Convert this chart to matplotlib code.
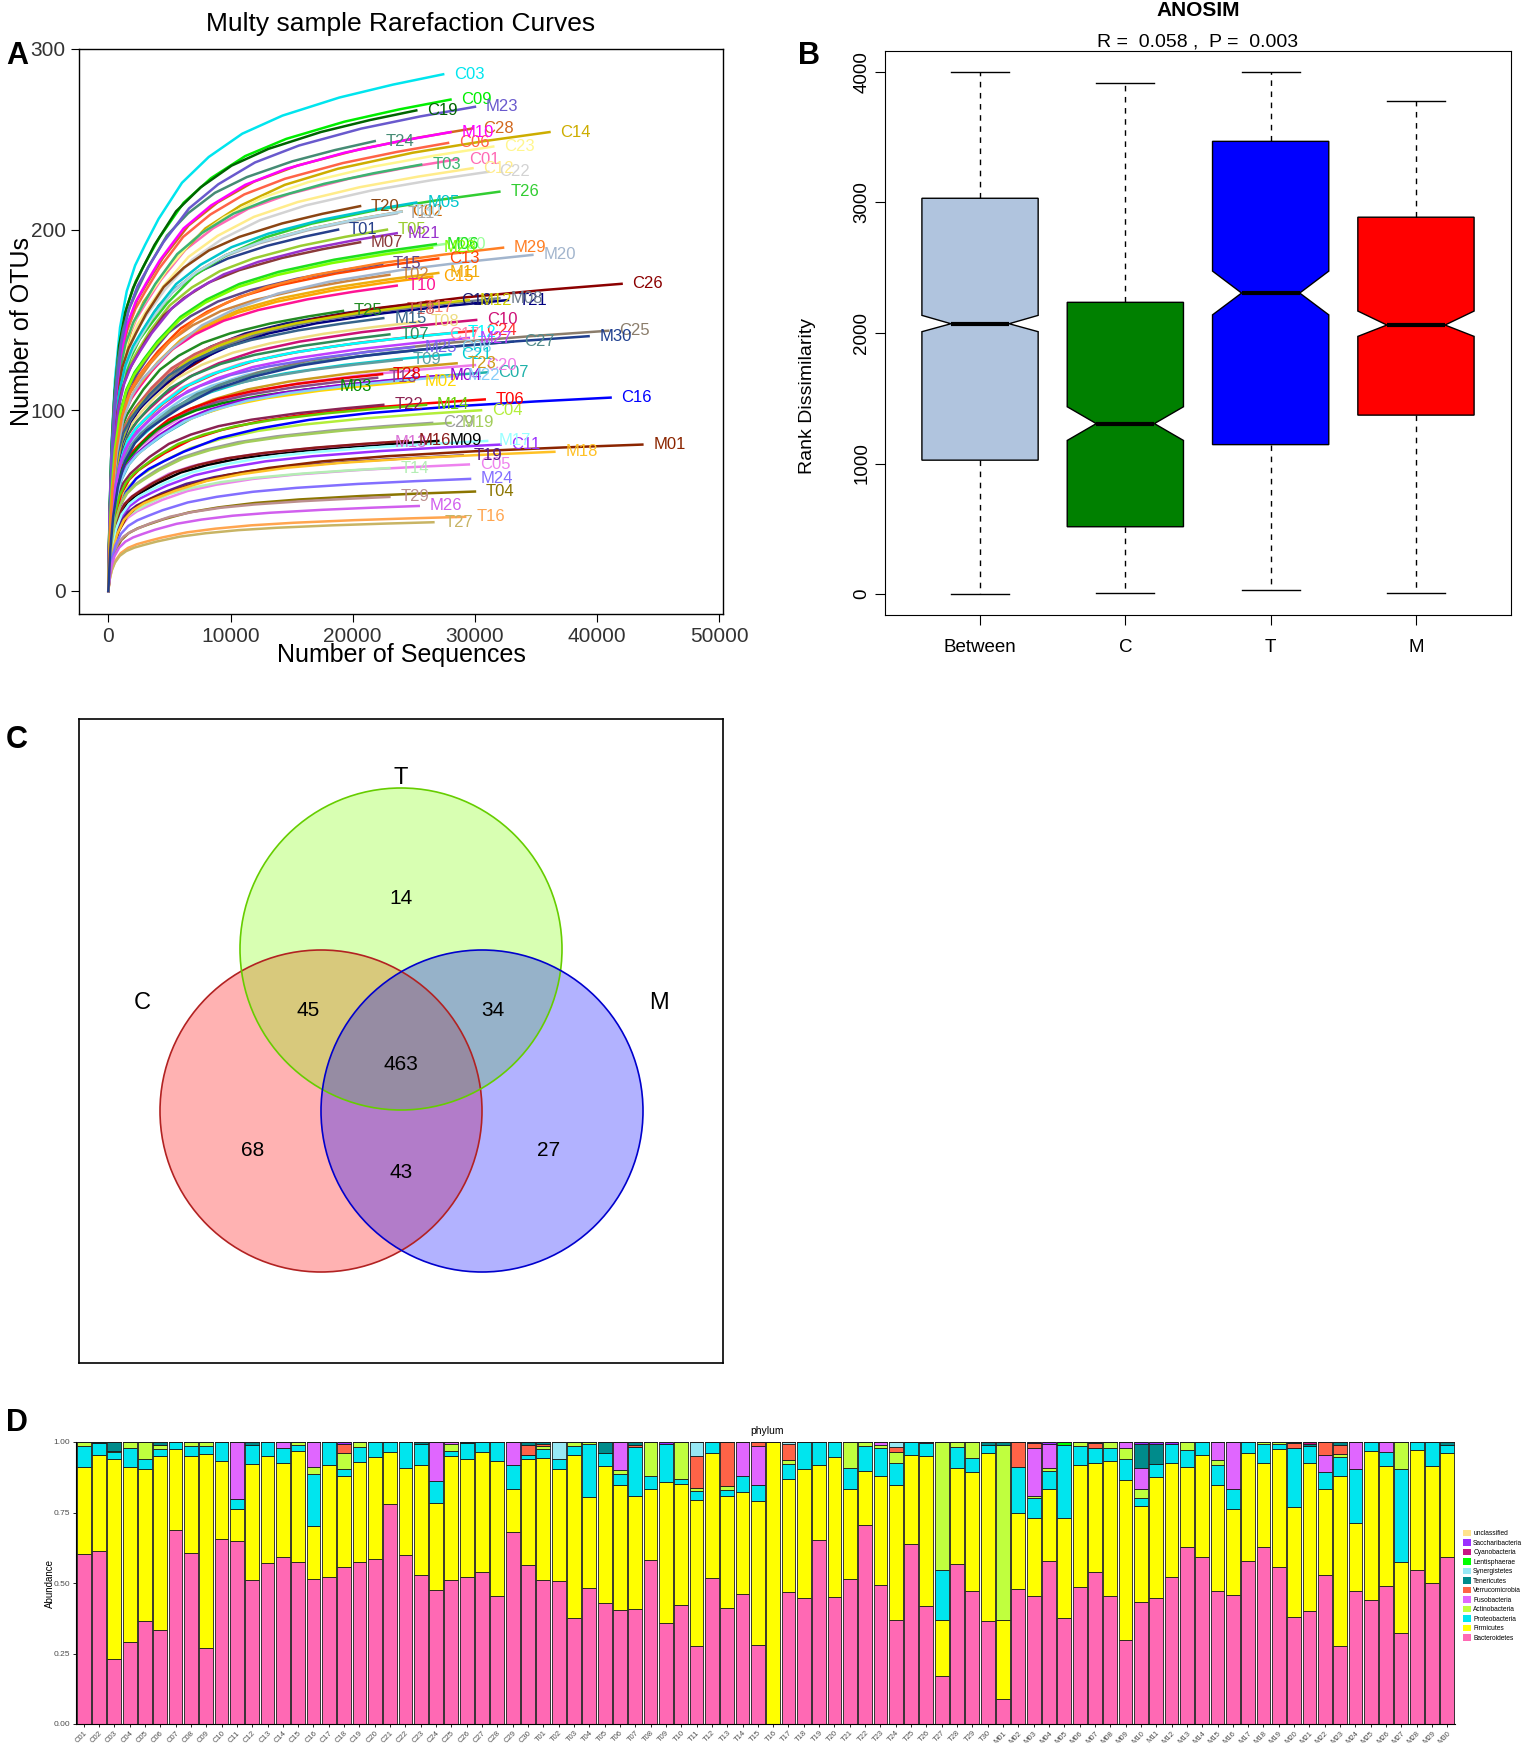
import matplotlib.pyplot as plt
from matplotlib.patches import Circle, Patch
import numpy as np

plt.rcParams['font.family'] = ['Liberation Sans', 'DejaVu Sans']

# ---------------- panel A: rarefaction curves ----------------
samples = [f"{g}{i:02d}" for g in "CTM" for i in range(1, 31)]

seq_depth = [28600, 24000, 27400, 30500, 29500, 27800, 31000, 28000, 28000, 30100,
             32100, 29800, 27000, 36100, 26500, 41100, 27000, 28000, 25200, 30000,
             28000, 31100, 31500, 30000, 40900, 42000, 33100, 29800, 26500, 27500,
             18800, 23000, 25600, 30000, 22800, 30800, 23000, 25500, 24000, 23600,
             23600, 28500, 22000, 23000, 22400, 29200, 25000, 23500, 29000, 20600,
             32700, 22500, 28500, 21800, 19200, 32000, 26600, 22400, 23000, 24000,
             43700, 25000, 18000, 27000, 25200, 26800, 20600, 32000, 27000, 28000,
             27000, 29500, 22500, 26000, 22500, 24500, 31000, 36500, 28000, 34700,
             23600, 28500, 30000, 29600, 25000, 25400, 29500, 26500, 32300, 39300]

otu_final = [239, 210, 286, 100, 70, 248, 121, 135, 272, 150,
             81, 234, 184, 254, 174, 107, 142, 161, 266, 125,
             131, 232, 246, 144, 144, 170, 138, 256, 93, 192,
             200, 175, 236, 55, 200, 106, 142, 149, 128, 169,
             209, 143, 118, 68, 181, 41, 157, 156, 75, 213,
             161, 103, 126, 249, 155, 221, 38, 120, 52, 210,
             81, 116, 113, 119, 215, 192, 193, 162, 83, 254,
             176, 161, 82, 103, 151, 83, 83, 77, 93, 186,
             198, 119, 268, 62, 135, 47, 140, 190, 190, 141]

curve_colors = ['#FF69B4', '#CD6600', '#00E5EE', '#B3EE3A', '#EE82EE', '#FF6347', '#20B2AA', '#87CEEB', '#00EE00', '#CD1076',
                '#9B30FF', '#FFEC8B', '#FF4500', '#CDAD00', '#FFA500', '#0000FF', '#FF82AB', '#191970', '#006400', '#EE7AE9',
                '#00CED1', '#D3D3D3', '#FFF68F', '#FF3030', '#8B7D6B', '#8B0000', '#528B8B', '#D2691E', '#9C9C9C', '#9AFF9A',
                '#27408B', '#CD853F', '#3CB371', '#8B7500', '#9ACD32', '#FF0000', '#2E8B57', '#EEDD82', '#5F9EA0', '#FF1493',
                '#A9A9A9', '#00FFFF', '#8B4789', '#B4EEB4', '#5D478B', '#FFA54F', '#FA8072', '#CD5C5C', '#551A8B', '#8B4513',
                '#000080', '#8B2252', '#CD9B1D', '#458B74', '#228B22', '#32CD32', '#C8B464', '#EE0000', '#BC8F8F', '#ADD8E6',
                '#8B2500', '#FFD700', '#008B00', '#9400D3', '#00C5CD', '#1EE01E', '#8B3A3A', '#6C7B8B', '#000000', '#FF00FF',
                '#EEAD0E', '#CDCD00', '#DA70D6', '#66CD00', '#36648B', '#8B1A1A', '#97FFFF', '#FFC125', '#A2CD5A', '#A2B5CD',
                '#9932CC', '#87CEFA', '#6959CD', '#836FFF', '#7A67EE', '#D15FEE', '#BF3EFF', '#7FFF00', '#FF7F24', '#1F3F8F']

# shared shape of a curve (fraction of final depth -> fraction of final OTUs), read from C03
depth_frac = [0, 0.004, 0.01, 0.02, 0.035, 0.055, 0.08, 0.11, 0.15, 0.22, 0.30, 0.40, 0.52, 0.69, 0.85, 1.0]
otu_frac = [0, 0.16, 0.29, 0.41, 0.51, 0.58, 0.63, 0.67, 0.72, 0.79, 0.84, 0.885, 0.92, 0.955, 0.98, 1.0]

# ---------------- panel B: ANOSIM ----------------
groups = ['Between', 'C', 'T', 'M']
box_colors = ['#B0C4DE', '#008000', '#0000FF', '#FF0000']
whisk_lo = [0, 6, 32, 6]
q1 = [1026, 516, 1145, 1371]
median = [2071, 1306, 2306, 2061]
q3 = [3032, 2235, 3468, 2887]
whisk_hi = [4000, 3913, 4000, 3774]
notch_lo = [2010, 1177, 2139, 1974]
notch_hi = [2135, 1435, 2474, 2168]

# ---------------- panel C: Venn ----------------
venn_sets = ['C', 'T', 'M']
venn_counts = {'T': 14, 'CT': 45, 'TM': 34, 'CTM': 463, 'C': 68, 'CM': 43, 'M': 27}

# ---------------- panel D: phylum composition ----------------
phyla = ['Bacteroidetes', 'Firmicutes', 'Proteobacteria', 'Actinobacteria', 'Fusobacteria',
         'Verrucomicrobia', 'Tenericutes', 'Synergistetes', 'Lentisphaerae', 'Cyanobacteria',
         'Saccharibacteria', 'unclassified']
phylum_colors = ['#FF69B4', '#FFFF00', '#00E5EE', '#C0FF3E', '#E066FF',
                 '#FF6347', '#008B8B', '#97E8F5', '#00FF00', '#C71585',
                 '#9B30FF', '#FFE38C']

bacteroidetes = [.604, .613, .23, .29, .365, .335, .688, .607, .27, .655,
                 .649, .51, .57, .593, .575, .515, .52, .555, .575, .585,
                 .78, .599, .53, .475, .51, .52, .54, .455, .682, .563,
                 .512, .506, .377, .483, .428, .406, .409, .581, .358, .423,
                 .275, .518, .41, .461, .281, 0, .469, .447, .651, .45,
                 .514, .707, .493, .37, .637, .42, .171, .567, .473, .367,
                 .088, .477, .453, .578, .377, .486, .539, .454, .298, .434,
                 .448, .521, .629, .593, .472, .459, .577, .629, .555, .381,
                 .402, .528, .278, .47, .438, .488, .323, .546, .501, .593]
firmicutes = [.309, .342, .71, .622, .539, .614, .288, .343, .688, .276,
              .115, .413, .382, .332, .392, .186, .397, .326, .354, .362,
              .184, .308, .387, .307, .439, .421, .424, .477, .152, .375,
              .431, .397, .578, .321, .487, .442, .398, .253, .5, .429,
              .52, .443, .397, .361, .509, 1.0, .401, .458, .269, .497,
              .32, .189, .388, .478, .318, .529, .197, .342, .42, .594,
              .28, .27, .277, .256, .353, .434, .386, .477, .566, .338,
              .427, .404, .282, .36, .374, .304, .384, .296, .419, .39,
              .523, .307, .602, .242, .531, .428, .251, .426, .415, .368]
proteobacteria = [.072, .041, .024, .067, .034, .025, .024, .036, .027, .069,
                  .034, .067, .048, .054, .021, .186, .083, .024, .053, .053,
                  .036, .093, .077, .081, .018, .056, .036, .068, .086, .017,
                  .033, .035, .031, .19, .047, .039, .174, .045, .136, .018,
                  .032, .039, .024, .057, .056, 0, .051, .095, .08, .053,
                  .073, .09, .099, .077, .045, .047, .177, .075, .05, .029,
                  0, .164, .07, .063, .261, .065, .055, .049, .076, .03,
                  .048, .067, .059, .047, .071, .071, .039, .069, .018, .209,
                  .061, .059, .068, .194, .031, .05, .331, .028, .084, .029]
actinobacteria = [.015, 0, .003, .021, .062, .016, 0, .014, .015, 0,
                  0, 0, 0, 0, .012, .024, 0, .057, .018, 0,
                  0, 0, 0, 0, .025, 0, 0, 0, 0, 0,
                  .01, 0, .014, .006, 0, .012, 0, .121, 0, .13,
                  .009, 0, .012, 0, 0, 0, .014, 0, 0, 0,
                  .093, .014, .01, .039, 0, 0, .455, .016, .057, 0,
                  .622, 0, .008, .012, 0, .015, 0, .02, .038, .03,
                  0, 0, .03, 0, .02, 0, 0, .006, .008, 0,
                  0, 0, .01, 0, 0, 0, .095, 0, 0, 0]
fusobacteria = [0, 0, 0, 0, 0, 0, 0, 0, 0, 0,
                .202, 0, 0, .021, 0, .089, 0, 0, 0, 0,
                0, 0, 0, .137, .008, 0, 0, 0, .08, 0,
                0, 0, 0, 0, 0, .101, 0, 0, 0, 0,
                0, 0, 0, .121, .14, 0, 0, 0, 0, 0,
                0, 0, .01, 0, 0, .004, 0, 0, 0, 0,
                0, 0, .169, .083, 0, 0, 0, 0, .022, .077,
                0, 0, 0, 0, .063, .166, 0, 0, 0, 0,
                0, .06, 0, .094, 0, .034, 0, 0, 0, 0]
verrucomicrobia = [0, 0, 0, 0, 0, 0, 0, 0, 0, 0,
                   0, 0, 0, 0, 0, 0, 0, .03, 0, 0,
                   0, 0, 0, 0, 0, 0, 0, 0, 0, .036,
                   .006, 0, 0, 0, 0, 0, .008, 0, 0, 0,
                   .113, 0, .157, 0, .014, 0, .059, 0, 0, 0,
                   0, 0, 0, .018, 0, 0, 0, 0, 0, 0,
                   0, .089, .021, 0, 0, 0, .015, 0, 0, 0,
                   0, 0, 0, 0, 0, 0, 0, 0, 0, .015,
                   0, .046, .032, 0, 0, 0, 0, 0, 0, 0]
tenericutes = [0, .004, .033, 0, 0, .01, 0, 0, 0, 0,
               0, .01, 0, 0, 0, 0, 0, 0, 0, 0,
               0, 0, .006, 0, 0, .003, 0, 0, 0, .009,
               .008, 0, 0, 0, .038, 0, .011, 0, 0, 0,
               0, 0, 0, 0, 0, 0, 0, 0, 0, 0,
               0, 0, 0, 0, 0, 0, 0, 0, 0, .01,
               .01, 0, 0, 0, 0, 0, .005, 0, 0, .083,
               .071, 0, 0, 0, 0, 0, 0, 0, 0, .005,
               .008, 0, .01, 0, 0, 0, 0, 0, 0, .01]
synergistetes = [0] * 30 + [0, .062, 0, 0, 0, 0, 0, 0, 0, 0,
                            .051, 0, 0, 0, 0, 0, .006, 0, 0, 0,
                            0, 0, 0, .018, 0, 0, 0, 0, 0, 0] + [0] * 30
lentisphaerae = [0] * 64 + [.009] + [0] * 25
cyanobacteria = [0] * 80 + [.006] + [0] * 9
saccharibacteria = [0] * 17 + [.008] + [0] * 20 + [.006] + [0] * 23 + [.002, .008] + [0] * 5 + \
                   [.008, .006, .008] + [0] * 18
unclassified = [0] * 90

# ---------------- figure ----------------
W, H = 1535, 1743
fig = plt.figure(figsize=(W / 100, H / 100), dpi=100)


def rect(x0, y0, x1, y1):
    # pixel box (top-left origin) -> figure fraction
    return [x0 / W, 1 - y1 / H, (x1 - x0) / W, (y1 - y0) / H]


def ftext(x, y, s, **kw):
    fig.text(x / W, 1 - y / H, s, ha='center', va='center', **kw)


# ---- A ----
axA = fig.add_axes(rect(79, 49, 723, 614))
for i, name in enumerate(samples):
    xs = np.array(depth_frac) * seq_depth[i]
    ys = np.array(otu_frac) * otu_final[i]
    axA.plot(xs, ys, color=curve_colors[i], lw=1.8)
for i, name in enumerate(samples):
    axA.text(seq_depth[i] + 900, otu_final[i], name, color=curve_colors[i],
             fontsize=12, ha='left', va='center')
axA.set_xlim(-2400, 50300)
axA.set_ylim(-12.8, 300)
axA.set_xticks(range(0, 50001, 10000))
axA.set_yticks([0, 100, 200, 300])
axA.tick_params(labelsize=15, length=6, labelcolor='#333333')
for sp in axA.spines.values():
    sp.set_linewidth(1.0)
ftext(401, 24, 'Multy sample Rarefaction Curves', fontsize=19)
ftext(401, 655, 'Number of Sequences', fontsize=18)
ftext(22, 331, 'Number of OTUs', fontsize=18, rotation=90)
ftext(17, 56, 'A', fontsize=22, fontweight='bold')

# ---- B ----
axB = fig.add_axes(rect(885, 51, 1511, 615))
stats = []
for k in range(len(groups)):
    stats.append(dict(label=groups[k], whislo=whisk_lo[k], q1=q1[k], med=median[k],
                      q3=q3[k], whishi=whisk_hi[k], cilo=notch_lo[k], cihi=notch_hi[k],
                      fliers=[]))
bp = axB.bxp(stats, positions=[1, 2, 3, 4], widths=0.8, shownotches=True,
             patch_artist=True, showfliers=False,
             boxprops=dict(edgecolor='black', linewidth=1.0),
             whiskerprops=dict(color='black', linewidth=1.0, linestyle=(0, (4, 4))),
             capprops=dict(color='black', linewidth=1.0),
             medianprops=dict(color='black', linewidth=3))
for patch, c in zip(bp['boxes'], box_colors):
    patch.set_facecolor(c)
axB.set_xlim(0.346, 4.654)
axB.set_ylim(-160, 4160)
axB.set_yticks([0, 1000, 2000, 3000, 4000])
axB.set_yticklabels(['0', '1000', '2000', '3000', '4000'], rotation=90, va='center')
axB.tick_params(labelsize=13.5, length=7)
axB.tick_params(axis='x', pad=10)
ftext(1198, 10, 'ANOSIM', fontsize=15, fontweight='bold')
ftext(1198, 42, 'R =  0.058 ,  P =  0.003', fontsize=14)
ftext(808, 396, 'Rank Dissimilarity', fontsize=14, rotation=90)
ftext(809, 56, 'B', fontsize=22, fontweight='bold')

# ---- C ----
axC = fig.add_axes(rect(79, 719, 723, 1363))
axC.set_xlim(79, 723)
axC.set_ylim(1363, 719)
axC.set_xticks([])
axC.set_yticks([])
for sp in axC.spines.values():
    sp.set_linewidth(1.2)
circ = {'C': ((321, 1111), '#FF0000', '#B22222'),
        'T': ((401, 949), '#7FFF00', '#66CD00'),
        'M': ((482, 1111), '#0000FF', '#0000CD')}
for s in venn_sets:
    (cx, cy), fc, ec = circ[s]
    axC.add_patch(Circle((cx, cy), 161, facecolor=fc, alpha=0.3, edgecolor='none'))
for s in venn_sets:
    (cx, cy), fc, ec = circ[s]
    axC.add_patch(Circle((cx, cy), 161, facecolor='none', edgecolor=ec, lw=1.2))
for s, (x, y) in {'T': (401, 778), 'C': (142, 1003), 'M': (659, 1003)}.items():
    axC.text(x, y, s, fontsize=17, ha='center', va='center')
count_pos = {'T': (401, 898), 'CT': (308, 1010), 'TM': (493, 1010), 'CTM': (401, 1064),
             'C': (253, 1151), 'CM': (401, 1173), 'M': (549, 1151)}
for key, (x, y) in count_pos.items():
    axC.text(x, y, str(venn_counts[key]), fontsize=15, ha='center', va='center')
ftext(17, 740, 'C', fontsize=22, fontweight='bold')

# ---- D ----
axD = fig.add_axes(rect(76, 1442, 1455, 1724))
table = np.array([bacteroidetes, firmicutes, proteobacteria, actinobacteria, fusobacteria,
                  verrucomicrobia, tenericutes, synergistetes, lentisphaerae, cyanobacteria,
                  saccharibacteria, unclassified], dtype=float)
table = table / table.sum(axis=0)  # position = "fill"
xpos = np.arange(1, len(samples) + 1)
bottom = np.zeros(len(samples))
for row, c in zip(table, phylum_colors):
    axD.bar(xpos, row, bottom=bottom, width=0.9, color=c, edgecolor='#1a1a1a', linewidth=0.6)
    bottom += row
axD.set_xlim(0.5, 90.5)
axD.set_ylim(0, 1)
axD.set_xticks(xpos)
axD.set_xticklabels(samples, rotation=45, ha='right', rotation_mode='anchor', fontsize=5.5,
                    color='#4D4D4D')
axD.set_yticks([0, 0.25, 0.5, 0.75, 1.0])
axD.set_yticklabels(['0.00', '0.25', '0.50', '0.75', '1.00'], fontsize=6, color='#4D4D4D')
axD.tick_params(length=2.5, width=0.6, pad=1.5)
axD.spines['top'].set_visible(False)
axD.spines['right'].set_visible(False)
ftext(767, 1431, 'phylum', fontsize=7.5)
ftext(50, 1583, 'Abundance', fontsize=7, rotation=90)
handles = [Patch(facecolor=c, edgecolor='none') for c in phylum_colors][::-1]
axD.legend(handles, phyla[::-1], loc='center left', bbox_to_anchor=(1.004, 0.49),
           frameon=False, fontsize=4.8, handlelength=1.1, handleheight=1.1,
           labelspacing=0.3, handletextpad=0.4, borderaxespad=0)
ftext(17, 1423, 'D', fontsize=22, fontweight='bold')

fig.savefig('out.png', dpi=100)
